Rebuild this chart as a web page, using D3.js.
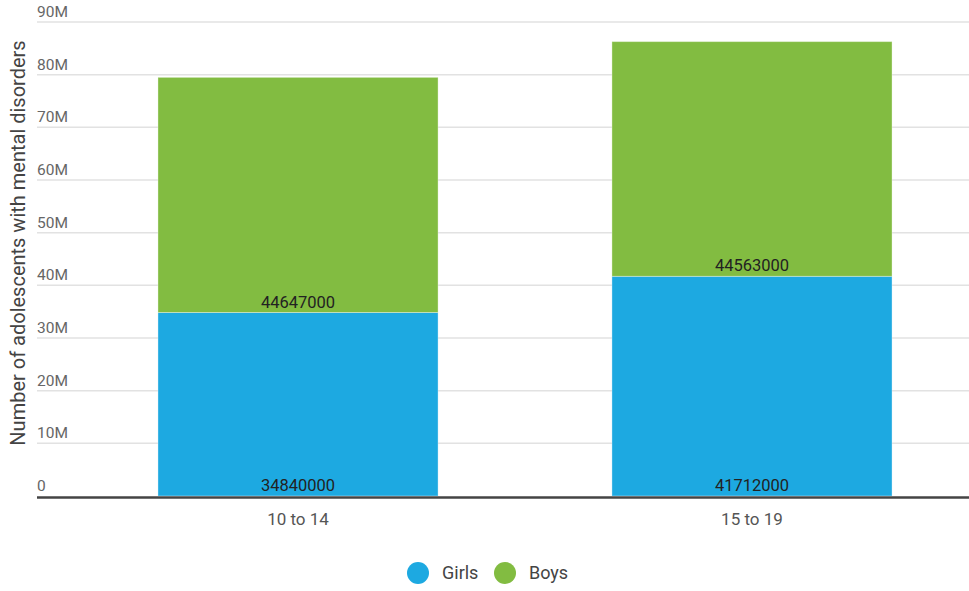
<!DOCTYPE html>
<html>
<head>
<meta charset="utf-8">
<script src="https://cdn.jsdelivr.net/npm/d3@7"></script>
<style>
  body { margin: 0; background: #fff; }
  svg { font-family: Roboto, sans-serif; display: block; }
</style>
</head>
<body>
<svg id="chart" width="969" height="591"></svg>
<script>
const ageGroups = ['10 to 14', '15 to 19']
const girls = [34840000, 41712000]
const boys = [44647000, 44563000]
const seriesNames = ['Girls', 'Boys']
const seriesColors = ['#1da9e1', '#82bc41']
const yTicks = [0, 10e6, 20e6, 30e6, 40e6, 50e6, 60e6, 70e6, 80e6, 90e6]

const svg = d3.select('#chart')
const width = 969

// 刻度和比例尺
const y = d3.scaleLinear().domain([0, 90e6]).range([496, 22])
const x = d3.scaleBand().domain(ageGroups).range([59, 991]).paddingInner(0.383).paddingOuter(0.218)

// 网格线
svg.append('g').selectAll('line')
  .data(yTicks.filter(d => d > 0))
  .enter().append('line')
  .attr('x1', 37).attr('x2', width)
  .attr('y1', d => y(d)).attr('y2', d => y(d))
  .style('stroke', '#e2e2e2')
  .style('stroke-width', 1.5)

// y 轴刻度文字
svg.append('g').selectAll('text')
  .data(yTicks)
  .enter().append('text')
  .attr('x', 37)
  .attr('y', d => y(d) - 5)
  .style('font-size', '15.5px')
  .style('fill', '#666')
  .text(d => d === 0 ? '0' : d3.format('.0f')(d / 1e6) + 'M')

// 堆叠数据
const rows = ageGroups.map((g, i) => ({ group: g, Girls: girls[i], Boys: boys[i] }))
const stacked = d3.stack().keys(seriesNames)(rows)

const layers = svg.append('g').selectAll('g')
  .data(stacked)
  .enter().append('g')
  .style('fill', (d, i) => seriesColors[i])

layers.selectAll('rect')
  .data(d => d)
  .enter().append('rect')
  .attr('x', d => x(d.data.group))
  .attr('width', x.bandwidth())
  .attr('y', d => y(d[1]))
  .attr('height', d => y(d[0]) - y(d[1]))
  .style('stroke', 'rgba(255,255,255,0.35)')
  .style('stroke-width', 1)

// 数值标签
layers.selectAll('text')
  .data(d => d.map(v => ({ v, key: d.key })))
  .enter().append('text')
  .attr('x', d => x(d.v.data.group) + x.bandwidth() / 2)
  .attr('y', d => y(d.v[0]) - 5)
  .attr('text-anchor', 'middle')
  .style('font-size', '16.5px')
  .style('fill', '#222')
  .text(d => d.v.data[d.key])

// 底部轴线
svg.append('line')
  .attr('x1', 37).attr('x2', width)
  .attr('y1', 497.5).attr('y2', 497.5)
  .style('stroke', '#444')
  .style('stroke-width', 2.5)

// x 轴标签
svg.append('g').selectAll('text')
  .data(ageGroups)
  .enter().append('text')
  .attr('x', d => x(d) + x.bandwidth() / 2)
  .attr('y', 525)
  .attr('text-anchor', 'middle')
  .style('font-size', '17px')
  .style('fill', '#555')
  .text(d => d)

// y 轴标题
svg.append('text')
  .attr('transform', 'translate(25, 243) rotate(-90)')
  .attr('text-anchor', 'middle')
  .style('font-size', '20px')
  .style('fill', '#444')
  .text('Number of adolescents with mental disorders')

// 图例
const legend = svg.append('g').attr('transform', 'translate(418, 573)')
const items = legend.selectAll('g')
  .data(seriesNames)
  .enter().append('g')
  .attr('transform', (d, i) => `translate(${i * 87}, 0)`)
items.append('circle')
  .attr('r', 11)
  .style('fill', (d, i) => seriesColors[i])
items.append('text')
  .attr('x', 24)
  .attr('dy', '0.35em')
  .style('font-size', '18px')
  .style('fill', '#444')
  .text(d => d)
</script>
</body>
</html>
